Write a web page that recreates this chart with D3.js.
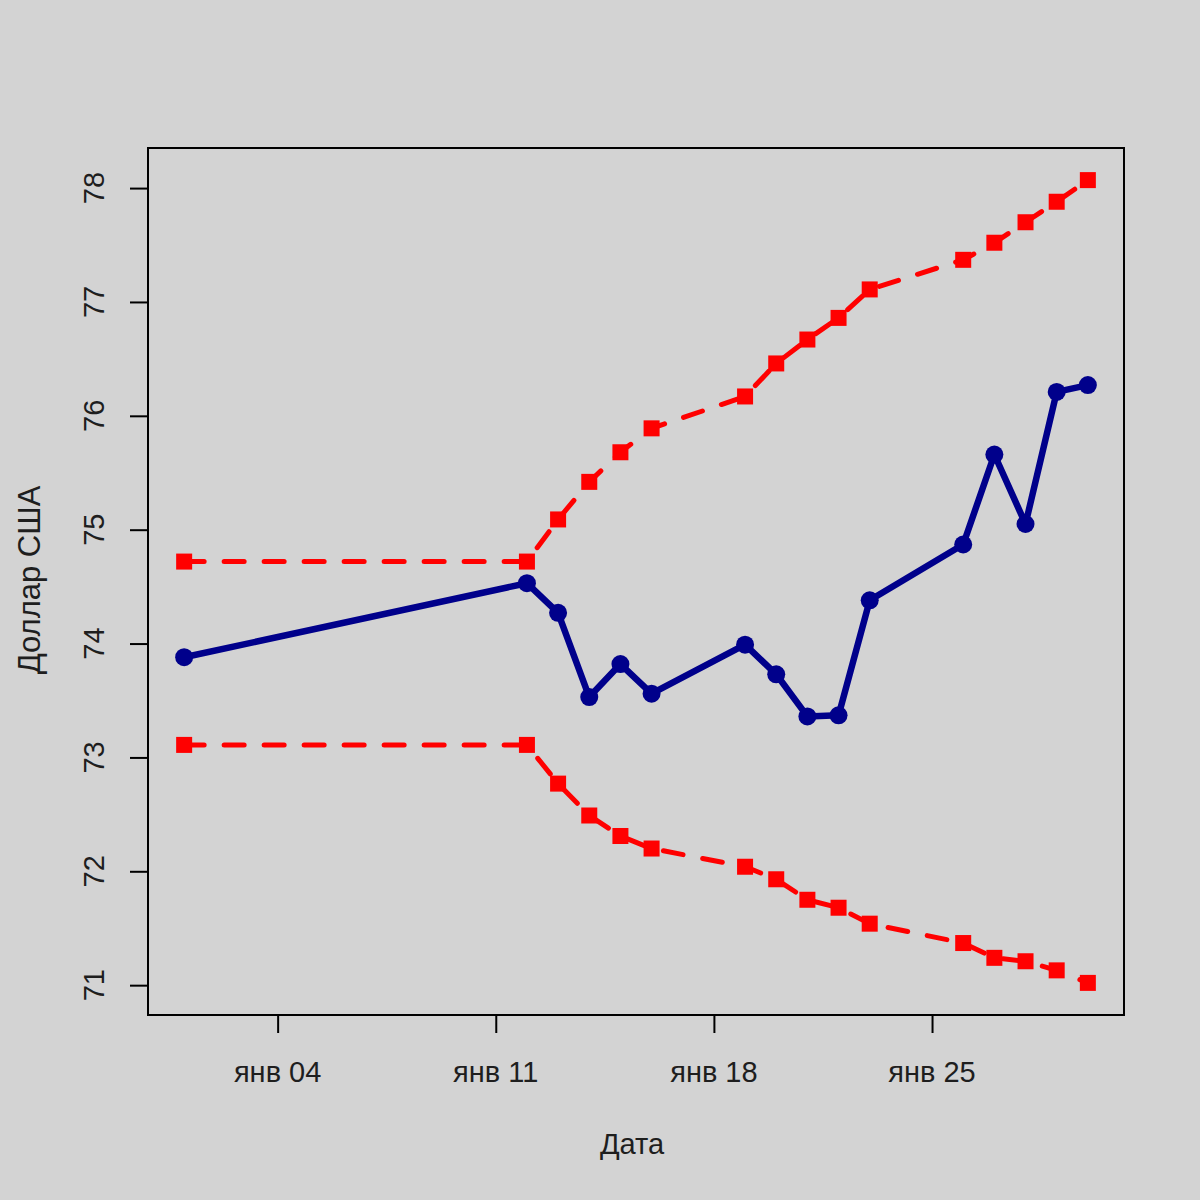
<!DOCTYPE html>
<html><head><meta charset="utf-8">
<script src="https://cdn.jsdelivr.net/npm/d3@7"></script>
<style>html,body{margin:0;padding:0;background:#D3D3D3;}</style>
</head><body>
<script>
const dates = ["2021-01-01","2021-01-12","2021-01-13","2021-01-14","2021-01-15","2021-01-16",
  "2021-01-19","2021-01-20","2021-01-21","2021-01-22","2021-01-23",
  "2021-01-26","2021-01-27","2021-01-28","2021-01-29","2021-01-30"];
const usd   = [73.88,74.53,74.27,73.53,73.82,73.56,73.99,73.73,73.36,73.37,74.38,74.87,75.66,75.05,76.21,76.27];
const upper = [74.72,74.72,75.09,75.42,75.68,75.89,76.17,76.46,76.67,76.86,77.11,77.37,77.52,77.70,77.88,78.07];
const lower = [73.11,73.11,72.77,72.49,72.31,72.20,72.04,71.93,71.75,71.68,71.54,71.37,71.24,71.21,71.13,71.02];
const yTicks = [71,72,73,74,75,76,77,78];
const xTickDates = ["2021-01-04","2021-01-11","2021-01-18","2021-01-25"];
const xTickLabels = ["янв 04","янв 11","янв 18","янв 25"];
const xTitle = "Дата";
const yTitle = "Доллар США";

const W = 1200, H = 1200;
const L = 148, R = 1124, T = 148, B = 1015;
const parse = d3.utcParse("%Y-%m-%d");
const dx = dates.map(parse);

const svg = d3.select("body").append("svg").attr("width", W).attr("height", H)
  .style("font-family", "'Liberation Sans', Arial, sans-serif");
svg.append("rect").attr("width", W).attr("height", H).attr("fill", "#D3D3D3");

const padX = (R - L) / 1.08 * 0.04;
const padY = (B - T) / 1.08 * 0.04;
const x = d3.scaleUtc().domain(d3.extent(dx)).range([L + padX, R - padX]);
const allY = usd.concat(upper, lower);
const y = d3.scaleLinear().domain(d3.extent(allY)).range([B - padY, T + padY]);

const txt = "#1e1e1e";
const fs = 29;

// y axis
const yAxis = svg.append("g").attr("transform", `translate(${L},0)`)
  .call(d3.axisLeft(y).tickValues(yTicks).tickSize(18).tickFormat(""));
yAxis.select(".domain").remove();
yAxis.selectAll(".tick line").attr("stroke", "#000").attr("stroke-width", 2);
yTicks.forEach(v => {
  svg.append("text").attr("transform", `translate(104,${y(v)}) rotate(-90)`)
    .attr("text-anchor", "middle").attr("font-size", fs).attr("fill", txt).text(String(v));
});

// x axis
const xtd = xTickDates.map(parse);
const xAxis = svg.append("g").attr("transform", `translate(0,${B})`)
  .call(d3.axisBottom(x).tickValues(xtd).tickSize(18).tickFormat(""));
xAxis.select(".domain").remove();
xAxis.selectAll(".tick line").attr("stroke", "#000").attr("stroke-width", 2);
xtd.forEach((d, i) => {
  svg.append("text").attr("x", x(d)).attr("y", 1082).attr("text-anchor", "middle")
    .attr("font-size", fs).attr("fill", txt).text(xTickLabels[i]);
});

// titles
svg.append("text").attr("x", 632).attr("y", 1154).attr("text-anchor", "middle")
  .attr("font-size", fs).attr("fill", txt).text(xTitle);
svg.append("text").attr("transform", `translate(40,580) rotate(-90)`)
  .attr("text-anchor", "middle").attr("font-size", 31).attr("fill", txt).text(yTitle);

// lines
const line = d3.line().x((d, i) => x(dx[i])).y(d => y(d));
[upper, lower].forEach(s => {
  svg.append("path").attr("d", line(s)).attr("fill", "none").attr("stroke", "#FF0000")
    .attr("stroke-width", 5).attr("stroke-dasharray", "20 20").attr("stroke-linecap", "round");
  svg.selectAll(null).data(s).enter().append("rect")
    .attr("x", (d, i) => x(dx[i]) - 8).attr("y", d => y(d) - 8)
    .attr("width", 16).attr("height", 16).attr("fill", "#FF0000");
});
svg.append("path").attr("d", line(usd)).attr("fill", "none").attr("stroke", "#00008B")
  .attr("stroke-width", 6.5).attr("stroke-linejoin", "round").attr("stroke-linecap", "round");
svg.selectAll(null).data(usd).enter().append("circle")
  .attr("cx", (d, i) => x(dx[i])).attr("cy", d => y(d)).attr("r", 9).attr("fill", "#00008B");

// frame
svg.append("rect").attr("x", L).attr("y", T).attr("width", R - L).attr("height", B - T)
  .attr("fill", "none").attr("stroke", "#000").attr("stroke-width", 2);
</script>
</body></html>
